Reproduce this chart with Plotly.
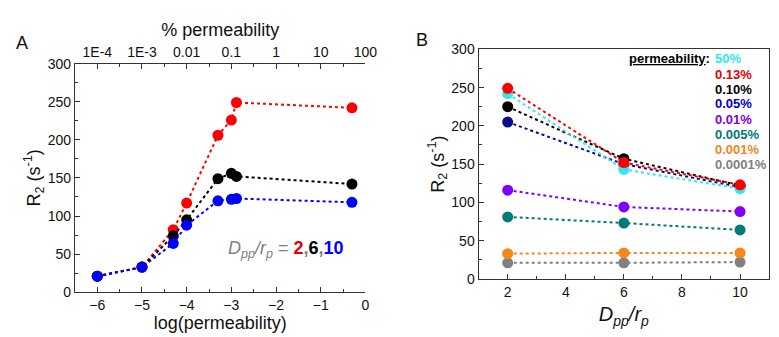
import plotly.graph_objects as go

# ---- Panel A data ----
log_perm = [-6, -5, -4.3, -4, -3.3, -3, -2.886, -0.301]
r2_d2 = [21, 33, 82, 117, 206, 226, 249, 242]
r2_d6 = [21, 33, 74, 95, 149, 156, 152, 142]
r2_d10 = [21, 33, 64, 88, 120, 122, 123, 118]
top_tickvals = [-6, -5, -4, -3, -2, -1, 0]
top_ticktext = ["1E-4", "1E-3", "0.01", "0.1", "1", "10", "100"]

# ---- Panel B data ----
dpp = [2, 6, 10]
perm_labels = ["50%", "0.13%", "0.10%", "0.05%", "0.01%", "0.005%", "0.001%", "0.0001%"]
r2_p50 = [242, 143, 118]
r2_p013 = [249, 152, 123]
r2_p010 = [225, 157, 122]
r2_p005 = [205, 150, 120]
r2_p001 = [116, 94, 88]
r2_p0005 = [81, 73, 64]
r2_p0001 = [33, 34, 34]
r2_p00001 = [21, 21, 22]

colA = ["#FF0000", "#000000", "#0000FF"]
colB = ["#33E6F0", "#FF0000", "#000000", "#0A0A8C", "#8000FF", "#007A7A", "#F7861D", "#808080"]
txtB = ["#33E6F0", "#E00000", "#000000", "#0000CC", "#8000E0", "#007A7A", "#F0861D", "#808080"]

FONT = "Liberation Sans, Arial, sans-serif"
fig = go.Figure()

for ys, c in [(r2_d2, colA[0]), (r2_d6, colA[1]), (r2_d10, colA[2])]:
    fig.add_trace(go.Scatter(x=log_perm, y=ys, mode="lines+markers", xaxis="x", yaxis="y",
                             line=dict(color=c, width=2, dash="dot"),
                             marker=dict(color=c, size=11), showlegend=False))
# invisible trace for top axis
fig.add_trace(go.Scatter(x=[-6], y=[0], xaxis="x3", yaxis="y", mode="markers",
                         marker=dict(opacity=0), showlegend=False, hoverinfo="skip"))

seriesB = [r2_p50, r2_p013, r2_p010, r2_p005, r2_p001, r2_p0005, r2_p0001, r2_p00001]
order = [7, 6, 5, 4, 3, 2, 0, 1]
for i in order:
    fig.add_trace(go.Scatter(x=dpp, y=seriesB[i], mode="lines+markers", xaxis="x2", yaxis="y2",
                             line=dict(color=colB[i], width=2, dash="dot"),
                             marker=dict(color=colB[i], size=11), showlegend=False))

W, H = 779, 337
ax_common = dict(showline=True, linecolor="#333", linewidth=1.3, ticks="inside", ticklen=5,
                 tickcolor="#333", showgrid=False, zeroline=False,
                 tickfont=dict(size=14, family=FONT, color="#111"))

fig.update_layout(
    width=W, height=H, margin=dict(l=0, r=0, t=0, b=0),
    plot_bgcolor="white", paper_bgcolor="white",
    font=dict(family=FONT, color="#111"),
    xaxis=dict(domain=[68 / W, 363 / W], range=[-6.5, 0], dtick=1, anchor="y",
               minor=dict(ticks="inside", ticklen=3, dtick=0.5, tickcolor="#333"),
               title=dict(text="log(permeability)", font=dict(size=18, family=FONT), standoff=4),
               **ax_common),
    xaxis3=dict(overlaying="x", side="top", range=[-6.5, 0], anchor="y",
                tickvals=top_tickvals, ticktext=top_ticktext,
                minor=dict(ticks="inside", ticklen=3, tickvals=[-5.5, -4.5, -3.5, -2.5, -1.5, -0.5], tickcolor="#333"),
                title=dict(text="% permeability", font=dict(size=18, family=FONT), standoff=2),
                **ax_common),
    yaxis=dict(domain=[(H - 290) / H, (H - 50) / H], range=[0, 300], dtick=50, anchor="x",
               minor=dict(ticks="inside", ticklen=3, dtick=25, tickcolor="#333"),
               title=dict(text="R<sub>2</sub> (s<sup>-1</sup>)", font=dict(size=18, family=FONT), standoff=2),
               **ax_common),
    xaxis2=dict(domain=[478 / W, 773 / W], range=[1, 11], dtick=2, anchor="y2", mirror=True,
                minor=dict(ticks="inside", ticklen=3, dtick=1, tickcolor="#333"),
                title=dict(text="<i>D<sub>pp</sub>/r<sub>p</sub></i>", font=dict(size=20, family=FONT), standoff=8),
                **ax_common),
    yaxis2=dict(domain=[(H - 276) / H, (H - 35) / H], range=[0, 300], dtick=50, anchor="x2", mirror=True,
                minor=dict(ticks="inside", ticklen=3, dtick=25, tickcolor="#333"),
                title=dict(text="R<sub>2</sub> (s<sup>-1</sup>)", font=dict(size=18, family=FONT), standoff=2),
                **ax_common),
)

ann = []
ann.append(dict(text="A", x=14 / W, y=(H - 28) / H, xref="paper", yref="paper", showarrow=False,
                font=dict(size=18, family=FONT, color="#111"), xanchor="center", yanchor="middle"))
ann.append(dict(text="B", x=420 / W, y=(H - 25) / H, xref="paper", yref="paper", showarrow=False,
                font=dict(size=18, family=FONT, color="#111"), xanchor="center", yanchor="middle"))
ann.append(dict(text="<i>D<sub>pp</sub>/r<sub>p</sub></i> = <b><span style='color:#E00000'>2</span>,"
                     "<span style='color:#000'>6</span>,<span style='color:#0000FF'>10</span></b>",
                x=343 / W, y=(H - 245) / H, xref="paper", yref="paper", showarrow=False,
                xanchor="right", yanchor="middle", font=dict(size=18, family=FONT, color="#808080")))
row_y = [45, 61, 77, 92, 109, 124, 140, 156]
ann.append(dict(text="<b><u>permeability</u>:</b>", x=715 / W, y=(H - row_y[0]) / H, xref="paper",
                yref="paper", showarrow=False, xanchor="right", yanchor="middle",
                font=dict(size=13, family=FONT, color="#000")))
for i, lab in enumerate(perm_labels):
    t = f"<b>{lab}</b>"
    ann.append(dict(text=t, x=716 / W, y=(H - row_y[i]) / H, xref="paper", yref="paper", showarrow=False,
                    xanchor="left", yanchor="middle", font=dict(size=13, family=FONT, color=txtB[i])))
fig.update_layout(annotations=ann)

fig.write_html("out.html")
